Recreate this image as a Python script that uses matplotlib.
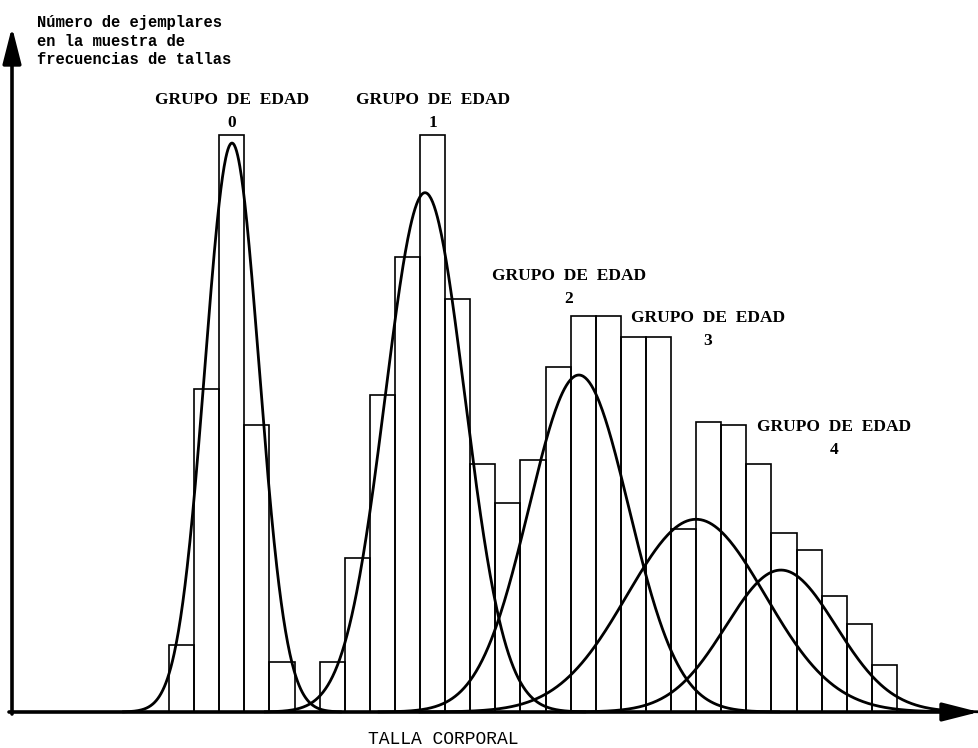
import numpy as np
import matplotlib.pyplot as plt

# frecuencias de tallas: una barra por clase de talla (la clase 5 esta vacia)
clase = np.arange(29)
ejemplares = [11.6, 56.0, 100.0, 49.7, 8.7, 0.0, 8.7, 26.7, 54.9, 78.9, 100.0,
              71.6, 43.0, 36.2, 43.7, 59.8, 68.6, 68.6, 65.0, 65.0, 31.7, 50.3,
              49.7, 43.0, 31.0, 28.1, 20.1, 15.3, 8.1]

# componente normal de cada grupo de edad (media, desviacion, altura del pico)
grupos = ["0", "1", "2", "3", "4"]
media = [2.51, 10.2, 16.33, 21.0, 24.38]
desv = [1.08, 1.59, 1.99, 2.75, 2.19]
pico = [98.6, 90.0, 58.4, 33.4, 24.6]

W, H = 979, 748


def fx(px):
    return px / W


def fy(py):
    return 1 - py / H


fig = plt.figure(figsize=(W / 100, H / 100), dpi=100)
ax = fig.add_axes([0, 0, 1, 1])
ax.set_xlim(-169 / 25.1, (W - 169) / 25.1)
ax.set_ylim(-(H - 712) / 5.77, 712 / 5.77)
ax.axis("off")

ax.bar(clase, ejemplares, width=1, align="edge", fill=False,
       edgecolor="black", linewidth=1.2, zorder=2)

for m, s, p in zip(media, desv, pico):
    xs = np.linspace(m - 4 * s, m + 4 * s, 400)
    ax.plot(xs, p * np.exp(-0.5 * ((xs - m) / s) ** 2),
            color="black", linewidth=2.0, zorder=3)

# ejes con flechas
arrow = dict(arrowstyle="-|>,head_length=1.1,head_width=0.28",
             color="black", lw=2.6, mutation_scale=20, shrinkA=0, shrinkB=0)
ax.annotate("", xy=(fx(12), fy(27)), xytext=(fx(12), fy(714)),
            xycoords="figure fraction", textcoords="figure fraction",
            arrowprops=arrow)
ax.annotate("", xy=(fx(979), fy(712)), xytext=(fx(9), fy(712)),
            xycoords="figure fraction", textcoords="figure fraction",
            arrowprops=arrow)

# rotulo del eje vertical
ylab = ["Número de ejemplares", "en la muestra de", "frecuencias de tallas"]
for i, t in enumerate(ylab):
    fig.text(fx(37), fy(23 + 18 * i), t, family="Liberation Mono",
             weight="bold", fontsize=11.2, va="center", ha="left")

fig.text(fx(368), fy(740), "TALLA CORPORAL", family="Liberation Mono",
         fontsize=13, va="center", ha="left")

# etiquetas de los grupos de edad
pos_lab = [(232, 100), (433, 100), (569, 276), (708, 318), (834, 427)]
for g, (px, py) in zip(grupos, pos_lab):
    fig.text(fx(px), fy(py), "GRUPO  DE  EDAD", family="Liberation Serif",
             weight="bold", fontsize=12.5, ha="center", va="center")
    fig.text(fx(px), fy(py + 23), g, family="Liberation Serif",
             weight="bold", fontsize=12.5, ha="center", va="center")

fig.savefig("out.png", dpi=100)
